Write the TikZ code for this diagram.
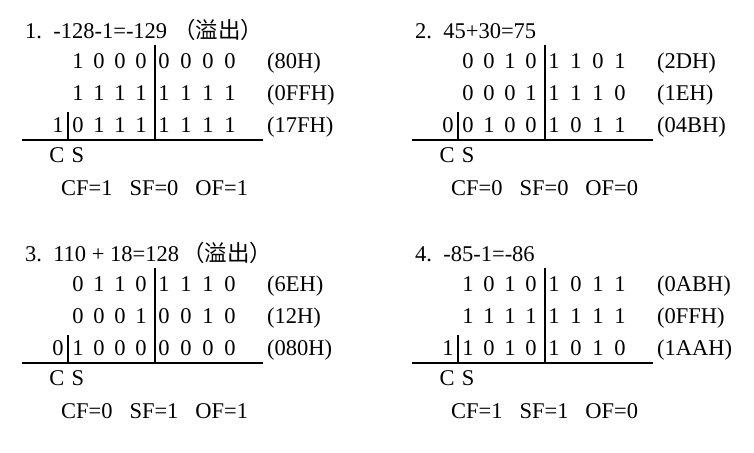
\documentclass[tikz,border=0pt]{standalone}
\usepackage{fontspec}
\setmainfont{Liberation Serif}
\newfontfamily\cjk{Noto Sans CJK SC}
\tikzset{
  txt/.style={inner sep=0pt, anchor=base, font=\fontsize{22.5}{27}\selectfont},
  ltxt/.style={txt, anchor=base west},
  rule/.style={line width=1.4pt, black},
}
\newcommand\drawpanel[9]{%
  \begin{scope}[shift={#2}]
    \node[ltxt] (#1title) at (25,38) {#3};
    \foreach \b [count=\i] in {#4} {
      \pgfmathsetmacro\xx{(\i<5) ? (78+21*(\i-1)) : (164+22*(\i-5))}
      \node[txt] (#1a\i) at (\xx,68) {\b};
    }
    \foreach \b [count=\i] in {#5} {
      \pgfmathsetmacro\xx{(\i<5) ? (78+21*(\i-1)) : (164+22*(\i-5))}
      \node[txt] (#1b\i) at (\xx,100) {\b};
    }
    \node[txt] (#1carry) at (58,132) {#6};
    \foreach \b [count=\i] in {#7} {
      \pgfmathsetmacro\xx{(\i<5) ? (78+21*(\i-1)) : (164+22*(\i-5))}
      \node[txt] (#1c\i) at (\xx,132) {\b};
    }
    \foreach \l [count=\i] in {#8} {
      \pgfmathsetmacro\yy{36+32*\i}
      \node[ltxt] (#1lab\i) at (267,\yy) {(\l)};
    }
    \coordinate (#1hl) at (22,140);
    \coordinate (#1hr) at (263,140);
    \coordinate (#1vt) at (155,45);
    \coordinate (#1vb) at (155,140);
    \coordinate (#1st) at (68,112);
    \coordinate (#1sb) at (68,140);
    \draw[rule] (#1hl) -- (#1hr);
    \draw[rule] (#1vt) -- (#1vb);
    \draw[rule] (#1st) -- (#1sb);
    \node[txt] (#1C) at (57,162) {C};
    \node[txt] (#1S) at (78,162) {S};
    \node[ltxt] (#1flags) at (61,195) {#9};
  \end{scope}}
\begin{document}
\begin{tikzpicture}[x=1pt,y=-1pt]
  \useasboundingbox (0,0) rectangle (754,452);
  \drawpanel{p}{(0,0)}{1.\ \ -128-1=-129\hspace{6pt}{\cjk （溢出）}}
    {1,0,0,0,0,0,0,0}{1,1,1,1,1,1,1,1}{1}{0,1,1,1,1,1,1,1}
    {80H,0FFH,17FH}{CF=1\ \ \ SF=0\ \ \ OF=1}
  \drawpanel{q}{(390,0)}{2.\ \ 45+30=75}
    {0,0,1,0,1,1,0,1}{0,0,0,1,1,1,1,0}{0}{0,1,0,0,1,0,1,1}
    {2DH,1EH,04BH}{CF=0\ \ \ SF=0\ \ \ OF=0}
  \drawpanel{r}{(0,223)}{3.\ \ 110\ +\ 18=128\hspace{3pt}{\cjk （溢出）}}
    {0,1,1,0,1,1,1,0}{0,0,0,1,0,0,1,0}{0}{1,0,0,0,0,0,0,0}
    {6EH,12H,080H}{CF=0\ \ \ SF=1\ \ \ OF=1}
  \drawpanel{s}{(390,223)}{4.\ \ -85-1=-86}
    {1,0,1,0,1,0,1,1}{1,1,1,1,1,1,1,1}{1}{1,0,1,0,1,0,1,0}
    {0ABH,0FFH,1AAH}{CF=1\ \ \ SF=1\ \ \ OF=0}
\end{tikzpicture}
\end{document}
